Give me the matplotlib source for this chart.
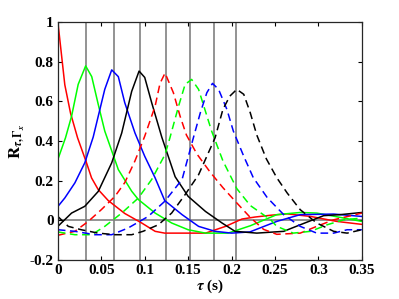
import matplotlib
matplotlib.use('Agg')
import matplotlib.pyplot as plt

plt.rcParams['font.family'] = 'Liberation Serif'
plt.rcParams['font.weight'] = 'bold'
plt.rcParams['mathtext.fontset'] = 'stix'

# lags of the correlation peaks (grey vertical lines)
peak_lags = [0.0323, 0.0646, 0.0946, 0.1246, 0.152, 0.180, 0.2053]

# solid curves
red_t = [0, 0.008, 0.0146, 0.0227, 0.033, 0.0388, 0.0465, 0.058, 0.077, 0.0965, 0.112, 0.123,
         0.15, 0.17, 0.193, 0.212, 0.227, 0.245, 0.264, 0.291, 0.321, 0.35]
red_v = [1.0, 0.683, 0.54, 0.416, 0.29, 0.214, 0.155, 0.1, 0.035, -0.013, -0.055, -0.064,
         -0.064, -0.064, -0.03, 0.007, 0.017, 0.026, 0.033, 0.02, -0.005, -0.02]

green_t = [0, 0.0088, 0.0158, 0.0234, 0.032, 0.039, 0.0465, 0.054, 0.0696, 0.085, 0.0927, 0.112,
           0.131, 0.150, 0.170, 0.196, 0.2215, 0.252, 0.279, 0.298, 0.35]
green_v = [0.307, 0.416, 0.525, 0.685, 0.778, 0.724, 0.584, 0.45, 0.256, 0.147, 0.105, 0.037,
           -0.013, -0.047, -0.064, -0.064, -0.027, 0.029, 0.04, 0.037, -0.005]

blue_t = [0, 0.008, 0.0196, 0.031, 0.0407, 0.0465, 0.054, 0.062, 0.0696, 0.077, 0.0888, 0.1,
          0.112, 0.123, 0.143, 0.162, 0.181, 0.200, 0.221, 0.252, 0.279, 0.3175, 0.35]
blue_v = [0.07, 0.113, 0.189, 0.29, 0.42, 0.525, 0.66, 0.758, 0.724, 0.593, 0.44, 0.323,
          0.214, 0.1, 0.029, -0.03, -0.055, -0.064, -0.058, -0.005, 0.029, 0.032, 0.02]

black_t = [0, 0.0158, 0.031, 0.0465, 0.062, 0.0735, 0.085, 0.0935, 0.1, 0.108, 0.1196, 0.135,
           0.150, 0.170, 0.189, 0.204, 0.229, 0.26, 0.279, 0.306, 0.325, 0.35]
black_v = [-0.03, 0.037, 0.071, 0.146, 0.29, 0.44, 0.65, 0.752, 0.72, 0.593, 0.42, 0.22,
           0.121, 0.045, -0.013, -0.055, -0.064, -0.055, -0.022, 0.024, 0.029, 0.04]

# dashed curves
red_d_t = [0, 0.0196, 0.035, 0.050, 0.0657, 0.077, 0.0888, 0.1, 0.112, 0.1176, 0.1234, 0.133,
           0.1407, 0.148, 0.16, 0.175, 0.19, 0.206, 0.2215, 0.2368, 0.252, 0.279, 0.298,
           0.3175, 0.35]
red_d_v = [-0.075, -0.055, -0.005, 0.054, 0.121, 0.19, 0.3, 0.424, 0.576, 0.69, 0.742, 0.643,
           0.525, 0.43, 0.335, 0.245, 0.165, 0.088, 0.015, -0.045, -0.07, -0.064, -0.03,
           0.003, 0.037]

green_d_t = [0, 0.0196, 0.039, 0.054, 0.0735, 0.0927, 0.108, 0.1234, 0.129, 0.139, 0.1465, 0.154,
             0.162, 0.168, 0.177, 0.19, 0.206, 0.2215, 0.245, 0.252, 0.271, 0.291, 0.31,
             0.329, 0.35]
green_d_v = [-0.058, -0.072, -0.072, -0.03, 0.037, 0.113, 0.206, 0.332, 0.416, 0.576, 0.685, 0.71,
             0.66, 0.576, 0.45, 0.3, 0.16, 0.075, 0.003, -0.03, -0.064, -0.055, -0.022,
             0.003, 0.012]

blue_d_t = [0, 0.0196, 0.0427, 0.062, 0.081, 0.104, 0.123, 0.143, 0.156, 0.164, 0.1715, 0.178,
            0.185, 0.1946, 0.202, 0.214, 0.225, 0.241, 0.26, 0.279, 0.298, 0.3175, 0.333, 0.35]
blue_d_v = [-0.047, -0.055, -0.072, -0.072, -0.038, 0.02, 0.096, 0.206, 0.416, 0.542, 0.643, 0.69,
            0.66, 0.559, 0.45, 0.323, 0.215, 0.115, 0.029, -0.03, -0.064, -0.064, -0.047, -0.047]

black_d_t = [0, 0.012, 0.027, 0.0465, 0.0657, 0.085, 0.098, 0.1157, 0.131, 0.1465, 0.162, 0.181,
             0.19, 0.198, 0.206, 0.214, 0.2215, 0.229, 0.24, 0.252, 0.264, 0.279, 0.298,
             0.3175, 0.333, 0.35]
black_d_v = [0.02, -0.03, -0.047, -0.064, -0.072, -0.072, -0.055, -0.022, 0.037, 0.13, 0.23, 0.416,
             0.559, 0.626, 0.66, 0.635, 0.542, 0.43, 0.31, 0.215, 0.138, 0.054, -0.013,
             -0.055, -0.064, -0.047]

fig = plt.figure(figsize=(3.99, 2.99), dpi=100)
ax = fig.add_axes([0.145, 0.130, 0.762, 0.797])

for x in peak_lags:
    ax.axvline(x, color='#808080', lw=1.2, zorder=1)
ax.axhline(0, color='#808080', lw=1.2, zorder=1)

lw = 1.1
dash = (0, (5, 3))
ax.plot(red_t, red_v, color='#ff0000', lw=lw)
ax.plot(green_t, green_v, color='#00ff00', lw=lw)
ax.plot(blue_t, blue_v, color='#0000ff', lw=lw)
ax.plot(black_t, black_v, color='k', lw=lw)
ax.plot(red_d_t, red_d_v, color='#ff0000', lw=lw, ls=dash)
ax.plot(green_d_t, green_d_v, color='#00ff00', lw=lw, ls=dash)
ax.plot(blue_d_t, blue_d_v, color='#0000ff', lw=lw, ls=dash)
ax.plot(black_d_t, black_d_v, color='k', lw=lw, ls=dash)

ax.set_xlim(0, 0.35)
ax.set_ylim(-0.2, 1)
ax.set_xticks([0, 0.05, 0.1, 0.15, 0.2, 0.25, 0.3, 0.35])
ax.set_xticklabels(['0', '0.05', '0.1', '0.15', '0.2', '0.25', '0.3', '0.35'])
ax.set_yticks([-0.2, 0, 0.2, 0.4, 0.6, 0.8, 1])
ax.set_yticklabels(['-0.2', '0', '0.2', '0.4', '0.6', '0.8', '1'])
ax.tick_params(direction='in', top=True, right=True, labelsize=11, length=3, width=0.8, pad=3)
for s in ax.spines.values():
    s.set_linewidth(0.9)
    s.set_color('#262626')

ax.set_xlabel(r'$\tau$ (s)', fontsize=11, fontweight='bold', labelpad=0)
ax.set_ylabel(r'$\mathbf{R}_{\tau,\Gamma_x}$', fontsize=12, labelpad=2)

fig.savefig('out.png', dpi=100)
